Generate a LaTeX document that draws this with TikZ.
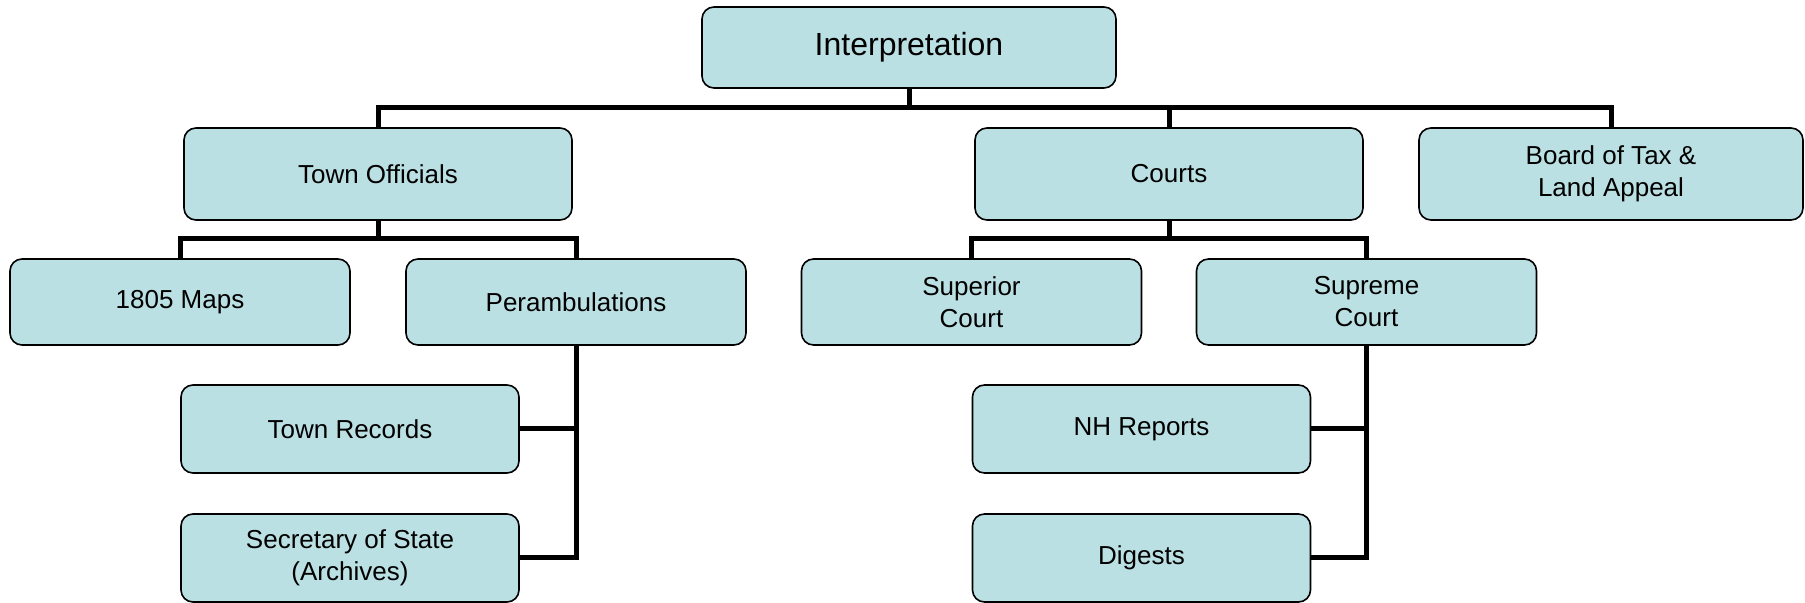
\documentclass[tikz,border=0pt]{standalone}
\usepackage{fontspec}
\setmainfont{Liberation Sans}
\definecolor{boxblue}{RGB}{187,224,227}

\begin{document}
\begin{tikzpicture}[x=0.5pt,y=-0.5pt,
    box/.style={draw, fill=boxblue, line width=0.8pt, rounded corners=6pt, align=center,
      inner sep=0pt, font=\fontsize{13}{16}\selectfont},
    lvla/.style={box, minimum width=194pt, minimum height=46pt},
    lvlb/.style={box, minimum width=170pt, minimum height=43pt},
    lvlc/.style={box, minimum width=169pt, minimum height=44pt},
    bus/.style={line width=2.5pt}]
  \useasboundingbox (0,0) rectangle (1805,603);

  \node[box, minimum width=207pt, minimum height=40.5pt, font=\fontsize{16}{19}\selectfont]
    (interp) at (909,47.5) {Interpretation};

  \node[lvla] (town) at (378,174) {Town Officials};
  \node[lvla] (courts) at (1169,174) {Courts};
  \node[lvla, minimum width=192pt] (board) at (1611,174) {Board of Tax \&\\Land Appeal};

  \node[lvlb] (maps) at (180,302) {1805 Maps};
  \node[lvlb] (peram) at (576,302) {Perambulations};
  \node[lvlb] (superior) at (971.5,302) {Superior\\Court};
  \node[lvlb] (supreme) at (1366.5,302) {Supreme\\Court};

  \node[lvlc] (records) at (350,429) {Town Records};
  \node[lvlc] (secretary) at (350,558) {Secretary of State\\(Archives)};
  \node[lvlc] (nhrep) at (1141.5,429) {NH Reports};
  \node[lvlc] (digests) at (1141.5,558) {Digests};

  \coordinate (topbus) at (909,108);
  \coordinate (townbus) at (378,239);
  \coordinate (courtbus) at (1169,239);

  \draw[bus] (interp.south) -- (topbus);
  \draw[bus] (town.north) |- (topbus) -| (board.north);
  \draw[bus] (courts.north) -- (courts.north |- topbus);

  \draw[bus] (town.south) -- (townbus);
  \draw[bus] (maps.north) |- (townbus) -| (peram.north);
  \draw[bus] (courts.south) -- (courtbus);
  \draw[bus] (superior.north) |- (courtbus) -| (supreme.north);

  \draw[bus] (peram.south) |- (secretary.east);
  \draw[bus] (records.east) -- (records.east -| peram.south);
  \draw[bus] (supreme.south) |- (digests.east);
  \draw[bus] (nhrep.east) -- (nhrep.east -| supreme.south);
\end{tikzpicture}
\end{document}
